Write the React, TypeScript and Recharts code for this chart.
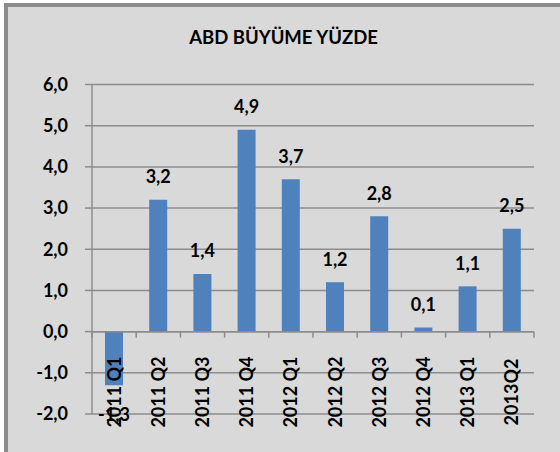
import React from "react";
import {
  Bar,
  BarChart,
  CartesianGrid,
  LabelList,
  ReferenceLine,
  XAxis,
  YAxis
} from "recharts";

// ABD büyüme yüzdesi, çeyreklik (Excel tarzı sütun grafiği)

const QUARTERS = [
  "2011 Q1",
  "2011 Q2",
  "2011 Q3",
  "2011 Q4",
  "2012 Q1",
  "2012 Q2",
  "2012 Q3",
  "2012 Q4",
  "2013 Q1",
  "2013Q2"
];
const GROWTH = [-1.3, 3.2, 1.4, 4.9, 3.7, 1.2, 2.8, 0.1, 1.1, 2.5];
const Y_TICKS = [-2, -1, 0, 1, 2, 3, 4, 5, 6];

const TITLE = "ABD BÜYÜME YÜZDE";

const FONT = "Lato, 'Open Sans', sans-serif";
const GRID = "#8c8c8c";
const BAR = "#4f81bd";

const data = QUARTERS.map((q, i) => ({ q, v: GROWTH[i] }));

const fmt = (v: number) => v.toFixed(1).replace(".", ",");

function QuarterTick(props: any) {
  const { x, y, payload } = props;
  const cy = y - 22;
  return (
    <text
      x={x}
      y={cy}
      dy="0.36em"
      textAnchor="middle"
      transform={`rotate(-90, ${x}, ${cy})`}
      fontFamily={FONT}
      fontWeight={700}
      fontSize={18}
      fill="#000"
    >
      {payload.value}
    </text>
  );
}

function ValueLabel(props: any) {
  const { x, y, width, height, value } = props;
  const top = Math.min(y, y + height);
  const bottom = Math.max(y, y + height);
  const ly = value >= 0 ? top - 23 : bottom + 29;
  return (
    <text
      x={x + width / 2}
      y={ly}
      dy="0.36em"
      textAnchor="middle"
      fontFamily={FONT}
      fontWeight={700}
      fontSize={18}
      fill="#000"
    >
      {fmt(value)}
    </text>
  );
}

// sıfır çizgisi + kategori sınırlarında küçük çentikler
function ZeroAxis(props: any) {
  const { x1, y1, x2 } = props;
  const n = QUARTERS.length;
  const step = (x2 - x1) / n;
  return (
    <g>
      <line x1={x1} y1={y1} x2={x2} y2={y1} stroke={GRID} strokeWidth={1.5} />
      {Array.from({ length: n + 1 }, (_, k) => (
        <line
          key={k}
          x1={x1 + k * step}
          x2={x1 + k * step}
          y1={y1}
          y2={y1 + 6}
          stroke={GRID}
          strokeWidth={1.5}
        />
      ))}
    </g>
  );
}

export default function App() {
  return (
    <div
      style={{
        position: "absolute",
        left: 0,
        top: 0,
        width: 560,
        height: 452,
        overflow: "hidden",
        background: "#fff"
      }}
    >
      <div
        style={{
          position: "absolute",
          left: 4,
          top: 3,
          width: 620,
          height: 520,
          border: "4px solid #8c8c8c",
          background: "#d9d9d9"
        }}
      />
      <div
        style={{
          position: "absolute",
          left: 0,
          top: 26,
          width: 567,
          textAlign: "center",
          fontFamily: FONT,
          fontWeight: 700,
          fontSize: 18.5,
          color: "#000"
        }}
      >
        {TITLE}
      </div>
      <div style={{ position: "absolute", left: 0, top: 0 }}>
        <BarChart
          width={560}
          height={452}
          data={data}
          margin={{ top: 84.5, right: 26, left: 0, bottom: 0 }}
        >
          <CartesianGrid vertical={false} stroke={GRID} strokeWidth={1.5} />
          <XAxis
            dataKey="q"
            height={38}
            axisLine={false}
            tickLine={false}
            tickSize={0}
            tickMargin={0}
            interval={0}
            tick={<QuarterTick />}
          />
          <YAxis
            width={92}
            domain={[-2, 6]}
            ticks={Y_TICKS}
            allowDataOverflow
            tickFormatter={fmt}
            axisLine={{ stroke: GRID, strokeWidth: 1.5 }}
            tickLine={{ stroke: GRID, strokeWidth: 1.5 }}
            tickSize={7}
            tickMargin={17}
            tick={{ fill: "#000", fontFamily: FONT, fontWeight: 700, fontSize: 18 }}
          />
          <ReferenceLine y={0} shape={<ZeroAxis />} />
          <Bar dataKey="v" fill={BAR} barSize={18} isAnimationActive={false}>
            <LabelList dataKey="v" content={<ValueLabel />} />
          </Bar>
        </BarChart>
      </div>
    </div>
  );
}
